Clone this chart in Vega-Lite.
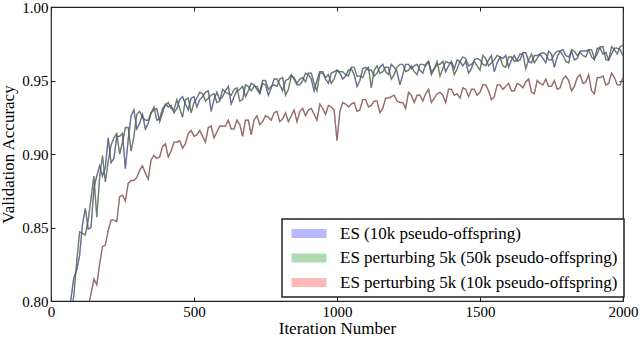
{
  "$schema": "https://vega.github.io/schema/vega-lite/v6.json",
  "autosize": {"type": "none"},
  "width": 572,
  "height": 294,
  "padding": {"left": 51, "top": 7, "right": 17, "bottom": 36},
  "background": "white",
  "config": {
    "view": {"stroke": "#222", "strokeWidth": 1.2},
    "font": "Liberation Serif"
  },
  "data": {"values": [
    {"iter":40,"a":0.768,"b":0.742,"c":null},
    {"iter":50,"a":0.767,"b":0.769,"c":null},
    {"iter":60,"a":0.773,"b":0.789,"c":null},
    {"iter":70,"a":0.802,"b":0.790,"c":null},
    {"iter":80,"a":0.816,"b":0.804,"c":null},
    {"iter":90,"a":0.821,"b":0.827,"c":null},
    {"iter":100,"a":0.831,"b":0.847,"c":0.773},
    {"iter":110,"a":0.852,"b":0.846,"c":0.774},
    {"iter":120,"a":0.863,"b":0.845,"c":0.782},
    {"iter":130,"a":0.849,"b":0.855,"c":0.796},
    {"iter":140,"a":0.850,"b":0.870,"c":0.805},
    {"iter":150,"a":0.877,"b":0.885,"c":0.815},
    {"iter":160,"a":0.885,"b":0.857,"c":0.811},
    {"iter":170,"a":0.892,"b":0.884,"c":0.825},
    {"iter":180,"a":0.885,"b":0.899,"c":0.837},
    {"iter":190,"a":0.891,"b":0.881,"c":0.838},
    {"iter":200,"a":0.911,"b":0.895,"c":0.848},
    {"iter":210,"a":0.894,"b":0.906,"c":0.855},
    {"iter":220,"a":0.897,"b":0.911,"c":0.855},
    {"iter":230,"a":0.912,"b":0.914,"c":0.854},
    {"iter":240,"a":0.912,"b":0.900,"c":0.871},
    {"iter":250,"a":0.914,"b":0.908,"c":0.872},
    {"iter":260,"a":0.890,"b":0.918,"c":0.868},
    {"iter":270,"a":0.910,"b":0.918,"c":0.880},
    {"iter":280,"a":0.926,"b":0.902,"c":0.882},
    {"iter":290,"a":0.930,"b":0.912,"c":0.882},
    {"iter":300,"a":0.917,"b":0.927,"c":0.884},
    {"iter":310,"a":0.921,"b":0.929,"c":0.889},
    {"iter":320,"a":0.927,"b":0.925,"c":0.892},
    {"iter":330,"a":0.917,"b":0.923,"c":0.887},
    {"iter":340,"a":0.921,"b":0.923,"c":0.883},
    {"iter":350,"a":0.928,"b":0.928,"c":0.896},
    {"iter":360,"a":0.930,"b":0.932,"c":0.899},
    {"iter":370,"a":0.931,"b":0.923,"c":0.897},
    {"iter":380,"a":0.922,"b":0.924,"c":0.898},
    {"iter":390,"a":0.928,"b":0.931,"c":0.905},
    {"iter":400,"a":0.934,"b":0.933,"c":0.907},
    {"iter":410,"a":0.932,"b":0.935,"c":0.898},
    {"iter":420,"a":0.933,"b":0.931,"c":0.902},
    {"iter":430,"a":0.928,"b":0.930,"c":0.908},
    {"iter":440,"a":0.931,"b":0.937,"c":0.908},
    {"iter":450,"a":0.937,"b":0.931,"c":0.909},
    {"iter":460,"a":0.939,"b":0.925,"c":0.904},
    {"iter":470,"a":0.934,"b":0.937,"c":0.907},
    {"iter":480,"a":0.930,"b":0.938,"c":0.914},
    {"iter":490,"a":0.938,"b":0.928,"c":0.916},
    {"iter":500,"a":0.939,"b":0.935,"c":0.912},
    {"iter":510,"a":0.932,"b":0.938,"c":0.913},
    {"iter":520,"a":0.937,"b":0.942,"c":0.916},
    {"iter":530,"a":0.939,"b":0.941,"c":0.912},
    {"iter":540,"a":0.942,"b":0.936,"c":0.908},
    {"iter":550,"a":0.943,"b":0.938,"c":0.918},
    {"iter":560,"a":0.929,"b":0.940,"c":0.919},
    {"iter":570,"a":0.937,"b":0.941,"c":0.911},
    {"iter":580,"a":0.942,"b":0.935,"c":0.915},
    {"iter":590,"a":0.937,"b":0.936,"c":0.919},
    {"iter":600,"a":0.939,"b":0.944,"c":0.919},
    {"iter":610,"a":0.943,"b":0.942,"c":0.919},
    {"iter":620,"a":0.946,"b":0.941,"c":0.923},
    {"iter":630,"a":0.934,"b":0.940,"c":0.917},
    {"iter":640,"a":0.939,"b":0.944,"c":0.917},
    {"iter":650,"a":0.943,"b":0.945,"c":0.923},
    {"iter":660,"a":0.944,"b":0.936,"c":0.920},
    {"iter":670,"a":0.946,"b":0.937,"c":0.912},
    {"iter":680,"a":0.939,"b":0.947,"c":0.923},
    {"iter":690,"a":0.943,"b":0.946,"c":0.923},
    {"iter":700,"a":0.948,"b":0.943,"c":0.913},
    {"iter":710,"a":0.947,"b":0.946,"c":0.923},
    {"iter":720,"a":0.944,"b":0.946,"c":0.926},
    {"iter":730,"a":0.941,"b":0.942,"c":0.920},
    {"iter":740,"a":0.948,"b":0.950,"c":0.922},
    {"iter":750,"a":0.947,"b":0.950,"c":0.926},
    {"iter":760,"a":0.940,"b":0.944,"c":0.925},
    {"iter":770,"a":0.945,"b":0.946,"c":0.923},
    {"iter":780,"a":0.951,"b":0.947,"c":0.928},
    {"iter":790,"a":0.951,"b":0.946,"c":0.929},
    {"iter":800,"a":0.947,"b":0.951,"c":0.922},
    {"iter":810,"a":0.943,"b":0.952,"c":0.924},
    {"iter":820,"a":0.950,"b":0.940,"c":0.928},
    {"iter":830,"a":0.951,"b":0.944,"c":0.922},
    {"iter":840,"a":0.954,"b":0.953,"c":0.926},
    {"iter":850,"a":0.951,"b":0.952,"c":0.930},
    {"iter":860,"a":0.947,"b":0.948,"c":0.922},
    {"iter":870,"a":0.947,"b":0.951,"c":0.929},
    {"iter":880,"a":0.950,"b":0.952,"c":0.931},
    {"iter":890,"a":0.955,"b":0.949,"c":0.926},
    {"iter":900,"a":0.954,"b":0.955,"c":0.930},
    {"iter":910,"a":0.951,"b":0.955,"c":0.931},
    {"iter":920,"a":0.943,"b":0.948,"c":0.927},
    {"iter":930,"a":0.950,"b":0.943,"c":0.923},
    {"iter":940,"a":0.956,"b":0.955,"c":0.934},
    {"iter":950,"a":0.956,"b":0.955,"c":0.931},
    {"iter":960,"a":0.951,"b":0.952,"c":0.927},
    {"iter":970,"a":0.948,"b":0.954,"c":0.933},
    {"iter":980,"a":0.955,"b":0.948,"c":0.932},
    {"iter":990,"a":0.956,"b":0.951,"c":0.930},
    {"iter":1000,"a":0.957,"b":0.957,"c":0.909},
    {"iter":1010,"a":0.955,"b":0.956,"c":0.929},
    {"iter":1020,"a":0.951,"b":0.956,"c":0.935},
    {"iter":1030,"a":0.953,"b":0.954,"c":0.934},
    {"iter":1040,"a":0.957,"b":0.953,"c":0.932},
    {"iter":1050,"a":0.958,"b":0.959,"c":0.934},
    {"iter":1060,"a":0.954,"b":0.959,"c":0.935},
    {"iter":1070,"a":0.946,"b":0.953,"c":0.929},
    {"iter":1080,"a":0.950,"b":0.953,"c":0.930},
    {"iter":1090,"a":0.958,"b":0.952,"c":0.937},
    {"iter":1100,"a":0.959,"b":0.957,"c":0.937},
    {"iter":1110,"a":0.957,"b":0.959,"c":0.932},
    {"iter":1120,"a":0.957,"b":0.945,"c":0.933},
    {"iter":1130,"a":0.953,"b":0.957,"c":0.936},
    {"iter":1140,"a":0.955,"b":0.960,"c":0.936},
    {"iter":1150,"a":0.959,"b":0.955,"c":0.928},
    {"iter":1160,"a":0.961,"b":0.956,"c":0.931},
    {"iter":1170,"a":0.956,"b":0.959,"c":0.938},
    {"iter":1180,"a":0.954,"b":0.959,"c":0.938},
    {"iter":1190,"a":0.961,"b":0.951,"c":0.939},
    {"iter":1200,"a":0.959,"b":0.954,"c":0.940},
    {"iter":1210,"a":0.956,"b":0.959,"c":0.936},
    {"iter":1220,"a":0.947,"b":0.961,"c":0.935},
    {"iter":1230,"a":0.954,"b":0.961,"c":0.935},
    {"iter":1240,"a":0.961,"b":0.956,"c":0.931},
    {"iter":1250,"a":0.961,"b":0.957,"c":0.942},
    {"iter":1260,"a":0.958,"b":0.960,"c":0.940},
    {"iter":1270,"a":0.960,"b":0.956,"c":0.935},
    {"iter":1280,"a":0.961,"b":0.954,"c":0.940},
    {"iter":1290,"a":0.957,"b":0.961,"c":0.940},
    {"iter":1300,"a":0.955,"b":0.961,"c":0.936},
    {"iter":1310,"a":0.961,"b":0.960,"c":0.941},
    {"iter":1320,"a":0.963,"b":0.963,"c":0.944},
    {"iter":1330,"a":0.954,"b":0.956,"c":0.935},
    {"iter":1340,"a":0.958,"b":0.958,"c":0.938},
    {"iter":1350,"a":0.961,"b":0.963,"c":0.941},
    {"iter":1360,"a":0.961,"b":0.953,"c":0.942},
    {"iter":1370,"a":0.963,"b":0.958,"c":0.940},
    {"iter":1380,"a":0.956,"b":0.963,"c":0.935},
    {"iter":1390,"a":0.960,"b":0.962,"c":0.944},
    {"iter":1400,"a":0.963,"b":0.962,"c":0.944},
    {"iter":1410,"a":0.958,"b":0.954,"c":0.940},
    {"iter":1420,"a":0.964,"b":0.958,"c":0.941},
    {"iter":1430,"a":0.963,"b":0.963,"c":0.938},
    {"iter":1440,"a":0.960,"b":0.966,"c":0.945},
    {"iter":1450,"a":0.963,"b":0.965,"c":0.944},
    {"iter":1460,"a":0.955,"b":0.960,"c":0.939},
    {"iter":1470,"a":0.958,"b":0.961,"c":0.944},
    {"iter":1480,"a":0.964,"b":0.963,"c":0.944},
    {"iter":1490,"a":0.965,"b":0.960,"c":0.940},
    {"iter":1500,"a":0.964,"b":0.957,"c":0.942},
    {"iter":1510,"a":0.961,"b":0.967,"c":0.947},
    {"iter":1520,"a":0.960,"b":0.965,"c":0.947},
    {"iter":1530,"a":0.964,"b":0.960,"c":0.943},
    {"iter":1540,"a":0.967,"b":0.962,"c":0.937},
    {"iter":1550,"a":0.956,"b":0.964,"c":0.939},
    {"iter":1560,"a":0.962,"b":0.967,"c":0.947},
    {"iter":1570,"a":0.966,"b":0.966,"c":0.947},
    {"iter":1580,"a":0.965,"b":0.960,"c":0.944},
    {"iter":1590,"a":0.967,"b":0.959,"c":0.946},
    {"iter":1600,"a":0.959,"b":0.966,"c":0.948},
    {"iter":1610,"a":0.964,"b":0.966,"c":0.943},
    {"iter":1620,"a":0.967,"b":0.963,"c":0.943},
    {"iter":1630,"a":0.963,"b":0.964,"c":0.948},
    {"iter":1640,"a":0.964,"b":0.968,"c":0.947},
    {"iter":1650,"a":0.969,"b":0.968,"c":0.945},
    {"iter":1660,"a":0.969,"b":0.958,"c":0.949},
    {"iter":1670,"a":0.963,"b":0.964,"c":0.951},
    {"iter":1680,"a":0.962,"b":0.968,"c":0.942},
    {"iter":1690,"a":0.967,"b":0.962,"c":0.941},
    {"iter":1700,"a":0.967,"b":0.965,"c":0.950},
    {"iter":1710,"a":0.968,"b":0.968,"c":0.948},
    {"iter":1720,"a":0.965,"b":0.969,"c":0.947},
    {"iter":1730,"a":0.962,"b":0.968,"c":0.951},
    {"iter":1740,"a":0.970,"b":0.964,"c":0.946},
    {"iter":1750,"a":0.968,"b":0.964,"c":0.946},
    {"iter":1760,"a":0.959,"b":0.968,"c":0.950},
    {"iter":1770,"a":0.966,"b":0.970,"c":0.944},
    {"iter":1780,"a":0.970,"b":0.970,"c":0.945},
    {"iter":1790,"a":0.971,"b":0.967,"c":0.951},
    {"iter":1800,"a":0.967,"b":0.963,"c":0.953},
    {"iter":1810,"a":0.966,"b":0.962,"c":0.950},
    {"iter":1820,"a":0.970,"b":0.971,"c":0.943},
    {"iter":1830,"a":0.964,"b":0.970,"c":0.946},
    {"iter":1840,"a":0.965,"b":0.967,"c":0.952},
    {"iter":1850,"a":0.970,"b":0.969,"c":0.954},
    {"iter":1860,"a":0.970,"b":0.967,"c":0.948},
    {"iter":1870,"a":0.970,"b":0.966,"c":0.949},
    {"iter":1880,"a":0.971,"b":0.971,"c":0.954},
    {"iter":1890,"a":0.966,"b":0.971,"c":0.943},
    {"iter":1900,"a":0.964,"b":0.965,"c":0.941},
    {"iter":1910,"a":0.972,"b":0.968,"c":0.952},
    {"iter":1920,"a":0.972,"b":0.973,"c":0.952},
    {"iter":1930,"a":0.968,"b":0.973,"c":0.953},
    {"iter":1940,"a":0.969,"b":0.964,"c":0.947},
    {"iter":1950,"a":0.964,"b":0.964,"c":0.948},
    {"iter":1960,"a":0.968,"b":0.973,"c":0.955},
    {"iter":1970,"a":0.972,"b":0.971,"c":0.952},
    {"iter":1980,"a":0.972,"b":0.968,"c":0.947},
    {"iter":1990,"a":0.971,"b":0.973,"c":0.947},
    {"iter":2000,"a":0.967,"b":0.974,"c":0.952}
  ]},
  "transform": [
    {"fold": ["a", "b", "c"], "as": ["series", "acc"]},
    {"filter": "isValid(datum.acc)"}
  ],
  "layer": [
    {
      "mark": {"type": "line", "clip": true, "strokeWidth": 1.2, "opacity": 1},
      "encoding": {
        "x": {"field": "iter", "type": "quantitative",
          "scale": {"domain": [0, 2000], "nice": false, "zero": false},
          "axis": {"values": [0, 500, 1000, 1500, 2000], "format": "d", "title": "Iteration Number",
            "domain": false, "grid": false, "tickSize": -4, "tickColor": "#222", "labelPadding": 7, "labelFlush": false,
            "labelFont": "Liberation Serif", "labelFontSize": 15, "labelColor": "black",
            "titleFont": "Liberation Serif", "titleFontSize": 17, "titleFontWeight": 400, "titleColor": "black", "titlePadding": 1}},
        "y": {"field": "acc", "type": "quantitative",
          "scale": {"domain": [0.8, 1.0], "nice": false, "zero": false},
          "axis": {"values": [0.8, 0.85, 0.9, 0.95, 1.0], "format": ".2f", "title": "Validation Accuracy",
            "domain": false, "grid": false, "tickSize": -4, "tickColor": "#222", "labelPadding": 7,
            "labelFont": "Liberation Serif", "labelFontSize": 15, "labelColor": "black",
            "titleFont": "Liberation Serif", "titleFontSize": 17, "titleFontWeight": 400, "titleColor": "black", "titlePadding": 4}},
        "color": {
          "field": "series",
          "type": "nominal",
          "scale": {"domain": ["a", "b", "c"], "range": ["#9a9aff", "#8fcc8f", "#ff9a9a"]},
          "legend": {
            "title": null,
            "orient": "none",
            "legendX": 231,
            "legendY": 212,
            "padding": 6,
            "rowPadding": 6.5,
            "strokeColor": "#222",
            "fillColor": "white",
            "symbolType": "M-1,-0.9H6V0.9H-1Z",
            "symbolSize": 100,
            "symbolStrokeWidth": 0,
            "symbolOpacity": 1,
            "labelExpr": "datum.label == 'a' ? 'ES (10k pseudo-offspring)' : datum.label == 'b' ? 'ES perturbing 5k (50k pseudo-offspring)' : 'ES perturbing 5k (10k pseudo-offspring)'",
            "labelFont": "Liberation Serif",
            "labelFontSize": 17,
            "labelColor": "black",
            "labelOffset": 35,
            "labelLimit": 400,
            "encode": {
              "legend": {"update": {"strokeWidth": {"value": 1.5}}},
              "symbols": {"update": {"fill": {"scale": "color", "field": "value"}, "fillOpacity": {"value": 0.7}, "strokeWidth": {"value": 0}}}
            }
          }
        }
      }
    },
    {
      "mark": {"type": "line", "clip": true, "stroke": "#4d4d4d", "strokeWidth": 1.4, "opacity": 0.6},
      "encoding": {
        "detail": {"field": "series"},
        "x": {"field": "iter", "type": "quantitative", "axis": null},
        "y": {"field": "acc", "type": "quantitative", "axis": null}
      }
    },
    {
      "mark": {"type": "line", "opacity": 0},
      "encoding": {
        "detail": {"field": "series"},
        "x": {"field": "iter", "type": "quantitative", "axis": {"orient": "top", "values": [0, 500, 1000, 1500, 2000], "labels": false, "title": null, "domain": false, "grid": false, "tickSize": -4, "tickColor": "#222"}},
        "y": {"field": "acc", "type": "quantitative", "axis": {"orient": "right", "values": [0.8, 0.85, 0.9, 0.95, 1.0], "labels": false, "title": null, "domain": false, "grid": false, "tickSize": -4, "tickColor": "#222"}}
      }
    }
  ],
  "resolve": {"axis": {"x": "independent", "y": "independent"}}
}
